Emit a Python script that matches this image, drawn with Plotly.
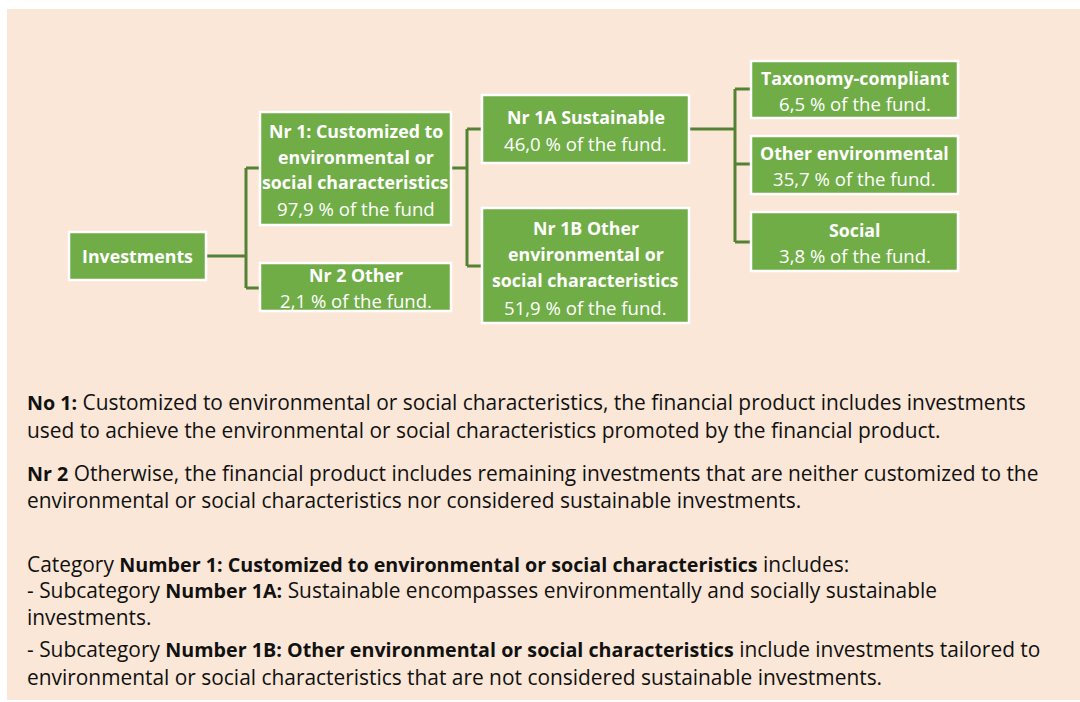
import plotly.graph_objects as go

# ---------------- data ----------------
node_titles = [
    ["Investments"],
    ["Nr 1: Customized to", "environmental or", "social characteristics"],
    ["Nr 2 Other"],
    ["Nr 1A Sustainable"],
    ["Nr 1B Other", "environmental or", "social characteristics"],
    ["Taxonomy-compliant"],
    ["Other environmental"],
    ["Social"],
]
node_shares = [None, 97.9, 2.1, 46.0, 51.9, 6.5, 35.7, 3.8]
share_suffix = ["", "", ".", ".", ".", ".", ".", "."]

body_lines = [
    "<b>No 1:</b> Customized to environmental or social characteristics, the financial product includes investments",
    "used to achieve the environmental or social characteristics promoted by the financial product.",
    "<b>Nr 2</b> Otherwise, the financial product includes remaining investments that are neither customized to the",
    "environmental or social characteristics nor considered sustainable investments.",
    "Category <b>Number 1: Customized to environmental or social characteristics</b> includes:",
    "- Subcategory <b>Number 1A:</b> Sustainable encompasses environmentally and socially sustainable",
    "investments.",
    "- Subcategory <b>Number 1B: Other environmental or social characteristics</b> include investments tailored to",
    "environmental or social characteristics that are not considered sustainable investments.",
]

# ---------------- layout geometry (screen pixels) ----------------
panel = (7, 1080, 9, 700)
boxes = [  # x0, x1, y0, y1
    (69, 206, 232, 280),
    (260, 451, 112, 225),
    (260, 451, 263, 311),
    (482, 689, 95, 163),
    (482, 689, 208, 323),
    (751, 958, 61, 118),
    (751, 958, 136, 194),
    (751, 958, 212, 271),
]
line_ys = [  # y centres of each text line per box
    [256],
    [131, 157, 182, 208],
    [275, 300],
    [117, 143],
    [228, 254, 280, 307],
    [78, 103],
    [153, 178],
    [230, 255],
]
connectors = [
    ([206, 246], [256, 256]),
    ([246, 246], [168, 288]),
    ([246, 260], [168, 168]),
    ([246, 260], [288, 288]),
    ([451, 467], [168, 168]),
    ([467, 467], [129, 266]),
    ([467, 482], [129, 129]),
    ([467, 482], [266, 266]),
    ([689, 735], [129, 129]),
    ([735, 735], [89, 242]),
    ([735, 751], [89, 89]),
    ([735, 751], [164, 164]),
    ([735, 751], [242, 242]),
]
body_ys = [402, 430, 473, 500, 564, 590, 617, 649, 677]
body_x = 25

BG = "#FAE7D7"
GREEN = "#70AD47"
DARK = "#548235"
FONT = "Open Sans"
BODY_SIZE = 20.9
BODY_BOLD_SIZE = 19.7

fig = go.Figure()
shapes = [dict(type="rect", xref="x", yref="y", x0=panel[0], x1=panel[1] + 5, y0=panel[2], y1=panel[3],
               fillcolor=BG, line=dict(width=0), layer="below")]
annotations = []

for xs, ys in connectors:
    shapes.append(dict(type="line", xref="x", yref="y", x0=xs[0], x1=xs[1], y0=ys[0], y1=ys[1],
                       line=dict(color=DARK, width=3)))

for i, (x0, x1, y0, y1) in enumerate(boxes):
    shapes.append(dict(type="rect", xref="x", yref="y", x0=x0, x1=x1, y0=y0, y1=y1,
                       fillcolor=GREEN, line=dict(color="white", width=2.5)))
    texts = [("<b>%s</b>" % t, 17.8) for t in node_titles[i]]
    if node_shares[i] is not None:
        texts.append((("%.1f" % node_shares[i]).replace(".", ",") + " % of the fund" + share_suffix[i], 18.6))
    cx = (x0 + x1) / 2
    for (t, sz), y in zip(texts, line_ys[i]):
        annotations.append(dict(x=cx, y=y, xref="x", yref="y", text=t, showarrow=False,
                                xanchor="center", yanchor="middle",
                                font=dict(family=FONT, size=sz, color="white")))

for t, y in zip(body_lines, body_ys):
    t = t.replace("<b>", '<b><span style="font-size:%spx">' % BODY_BOLD_SIZE).replace("</b>", "</span></b>")
    annotations.append(dict(x=body_x, y=y, xref="x", yref="y", text=t, showarrow=False,
                            xanchor="left", yanchor="middle",
                            font=dict(family=FONT, size=BODY_SIZE, color="#111111")))

fig.update_layout(
    width=1080, height=702,
    margin=dict(l=0, r=0, t=0, b=0),
    paper_bgcolor="white", plot_bgcolor="rgba(0,0,0,0)",
    xaxis=dict(range=[0, 1080], visible=False, fixedrange=True),
    yaxis=dict(range=[702, 0], visible=False, fixedrange=True),
    shapes=shapes, annotations=annotations, showlegend=False,
)
fig.write_html(
    "out.html",
    config={"displayModeBar": False},
    post_script="document.body.style.margin='0';document.body.style.overflow='hidden';",
)
